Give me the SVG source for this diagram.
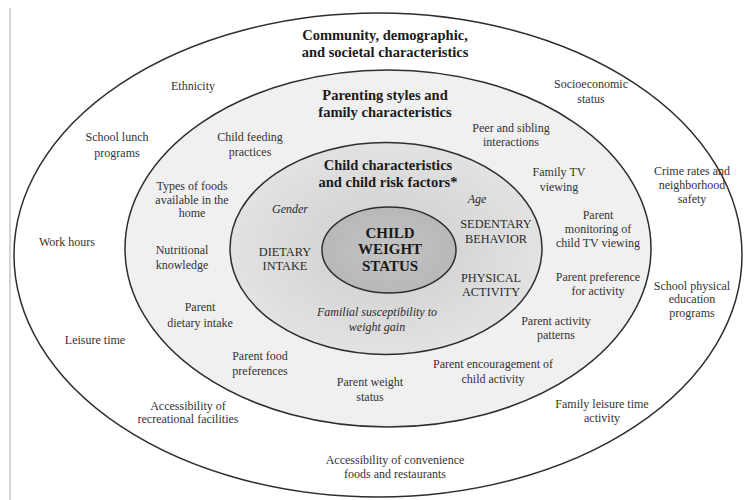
<svg xmlns="http://www.w3.org/2000/svg" width="748" height="500" viewBox="0 0 748 500">
<defs>
<radialGradient id="gInner" cx="0.5" cy="0.5" r="0.5">
<stop offset="0" stop-color="#cdcdcd"/>
<stop offset="1" stop-color="#e2e2e2"/>
</radialGradient>
<radialGradient id="gCenter" cx="0.5" cy="0.5" r="0.5">
<stop offset="0" stop-color="#c4c4c4"/>
<stop offset="1" stop-color="#b8b8b8"/>
</radialGradient>
</defs>
<style>
.ring{stroke:#2e2e2e;stroke-width:1.5}
text{font-family:"Liberation Serif","Times New Roman",serif;text-anchor:middle;fill:#2a2a2a}
.lbl{font-size:12px;fill:#333}
.head{font-size:14.5px;font-weight:bold;fill:#1a1a1a}
.core{font-size:15px;font-weight:bold;fill:#1a1a1a}
.cap{font-size:12.3px;fill:#2a2a2a}
.it{font-size:12px;font-style:italic;fill:#2a2a2a}
</style>
<rect x="0" y="0" width="748" height="500" fill="#ffffff"/>
<line x1="10" y1="8" x2="10" y2="500" stroke="#c4c4c4" stroke-width="1.5"/>

<g id="community">
<ellipse class="ring" cx="378" cy="255" rx="364" ry="242" fill="#ffffff"/>
<text class="head" x="385" y="40">Community, demographic,</text>
<text class="head" x="385" y="57">and societal characteristics</text>
</g>
<g id="parenting">
<ellipse class="ring" cx="388" cy="248.5" rx="263" ry="178.5" fill="#f0f0f0"/>
<text class="head" x="385" y="100">Parenting styles and</text>
<text class="head" x="385" y="117">family characteristics</text>
</g>
<g id="child-characteristics">
<ellipse class="ring" cx="386" cy="248.5" rx="156" ry="106" fill="url(#gInner)"/>
<text class="head" x="388" y="170">Child characteristics</text>
<text class="head" x="388" y="187">and child risk factors*</text>
</g>
<g id="child-weight-status">
<ellipse class="ring" cx="389" cy="250" rx="67" ry="43" fill="url(#gCenter)"/>
<text class="core" x="390" y="238">CHILD</text>
<text class="core" x="390" y="254">WEIGHT</text>
<text class="core" x="390" y="271">STATUS</text>
</g>

<g id="connectors"></g>

<g id="gender"><text class="it" x="290" y="213">Gender</text></g>
<g id="age"><text class="it" x="477" y="203">Age</text></g>
<g id="dietary-intake"><text class="cap" x="285" y="256">DIETARY</text><text class="cap" x="285" y="270">INTAKE</text></g>
<g id="sedentary-behavior"><text class="cap" x="496" y="228">SEDENTARY</text><text class="cap" x="496" y="243">BEHAVIOR</text></g>
<g id="physical-activity"><text class="cap" x="491" y="282">PHYSICAL</text><text class="cap" x="491" y="296">ACTIVITY</text></g>
<g id="familial-susceptibility"><text class="it" x="377" y="316">Familial susceptibility to</text><text class="it" x="377" y="331">weight gain</text></g>

<g id="child-feeding"><text class="lbl" x="250" y="141">Child feeding</text><text class="lbl" x="250" y="156">practices</text></g>
<g id="peer-sibling"><text class="lbl" x="511" y="132">Peer and sibling</text><text class="lbl" x="511" y="146">interactions</text></g>
<g id="types-of-foods"><text class="lbl" x="192" y="190">Types of foods</text><text class="lbl" x="192" y="204">available in the</text><text class="lbl" x="192" y="217">home</text></g>
<g id="nutritional-knowledge"><text class="lbl" x="182" y="254">Nutritional</text><text class="lbl" x="182" y="269">knowledge</text></g>
<g id="parent-dietary-intake"><text class="lbl" x="200" y="311">Parent</text><text class="lbl" x="200" y="327">dietary intake</text></g>
<g id="family-tv"><text class="lbl" x="559" y="176">Family TV</text><text class="lbl" x="559" y="191">viewing</text></g>
<g id="parent-monitoring"><text class="lbl" x="598" y="219">Parent</text><text class="lbl" x="598" y="233">monitoring of</text><text class="lbl" x="598" y="247">child TV viewing</text></g>
<g id="parent-preference"><text class="lbl" x="598" y="281">Parent preference</text><text class="lbl" x="598" y="295">for activity</text></g>
<g id="parent-activity-patterns"><text class="lbl" x="556" y="325">Parent activity</text><text class="lbl" x="556" y="339">patterns</text></g>
<g id="parent-food-preferences"><text class="lbl" x="260" y="360">Parent food</text><text class="lbl" x="260" y="375">preferences</text></g>
<g id="parent-weight-status"><text class="lbl" x="370" y="386">Parent weight</text><text class="lbl" x="370" y="401">status</text></g>
<g id="parent-encouragement"><text class="lbl" x="493" y="368">Parent encouragement of</text><text class="lbl" x="493" y="383">child activity</text></g>

<g id="ethnicity"><text class="lbl" x="193" y="90">Ethnicity</text></g>
<g id="socioeconomic"><text class="lbl" x="591" y="88">Socioeconomic</text><text class="lbl" x="591" y="103">status</text></g>
<g id="school-lunch"><text class="lbl" x="117" y="141">School lunch</text><text class="lbl" x="117" y="157">programs</text></g>
<g id="crime-rates"><text class="lbl" x="692" y="175">Crime rates and</text><text class="lbl" x="692" y="189">neighborhood</text><text class="lbl" x="692" y="203">safety</text></g>
<g id="work-hours"><text class="lbl" x="67" y="246">Work hours</text></g>
<g id="school-pe"><text class="lbl" x="692" y="290">School physical</text><text class="lbl" x="692" y="303">education</text><text class="lbl" x="692" y="317">programs</text></g>
<g id="leisure-time"><text class="lbl" x="95" y="344">Leisure time</text></g>
<g id="recreational-facilities"><text class="lbl" x="188" y="410">Accessibility of</text><text class="lbl" x="188" y="423">recreational facilities</text></g>
<g id="family-leisure"><text class="lbl" x="602" y="408">Family leisure time</text><text class="lbl" x="602" y="422">activity</text></g>
<g id="convenience-foods"><text class="lbl" x="395" y="464">Accessibility of convenience</text><text class="lbl" x="395" y="478">foods and restaurants</text></g>
</svg>
